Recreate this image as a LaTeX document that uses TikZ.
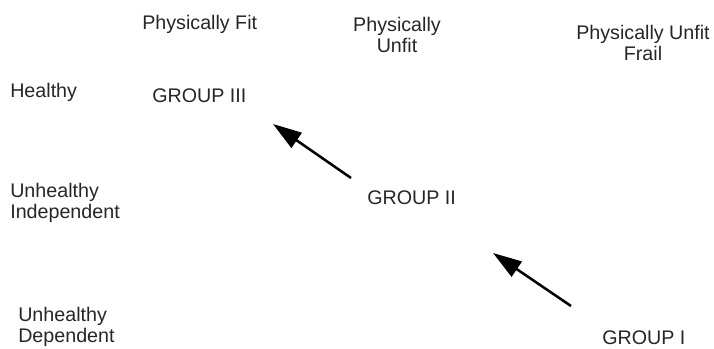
\documentclass[tikz,border=0pt]{standalone}
\usepackage{fontspec}
\setmainfont{Liberation Sans}
\usepackage{tikz}
\usetikzlibrary{arrows.meta,positioning}

\begin{document}
\begin{tikzpicture}[x=0.025cm,y=-0.025cm]
    \tikzset{LabelStyle/.style = {inner sep=0pt,
        font = \fontsize{14}{15}\selectfont,
        text = black!85},
      EdgeStyle/.style = {line width=1.8pt, -{Triangle[length=0.72cm,width=0.45cm]}}}
    \useasboundingbox (0,0) rectangle (714,348);
    \node[LabelStyle,anchor=north west] (Fit) at (142,15) {Physically Fit};
    \node[LabelStyle,anchor=north,align=center] (Unfit) at (397,17) {Physically\\Unfit};
    \node[LabelStyle,anchor=north,align=center] (Frail) at (643,25) {Physically Unfit\\Frail};
    \node[LabelStyle,anchor=north west] (H) at (10,83) {Healthy};
    \node[LabelStyle,anchor=north west,align=left] (UI) at (10,183) {Unhealthy\\Independent};
    \node[LabelStyle,anchor=north west,align=left] (UD) at (18,307) {Unhealthy\\Dependent};
    \node[LabelStyle,anchor=north west] (G3) at (152,88) {GROUP III};
    \node[LabelStyle,anchor=north west] (G2) at (367,190) {GROUP II};
    \node[LabelStyle,anchor=north west] (G1) at (602,330) {GROUP I};
    \coordinate (A) at (351,178);
    \coordinate (B) at (273,124);
    \coordinate (C) at (571,306);
    \coordinate (D) at (493,253);
    \draw[EdgeStyle] (A) -- (B);
    \draw[EdgeStyle] (C) -- (D);
  \end{tikzpicture}
\end{document}
